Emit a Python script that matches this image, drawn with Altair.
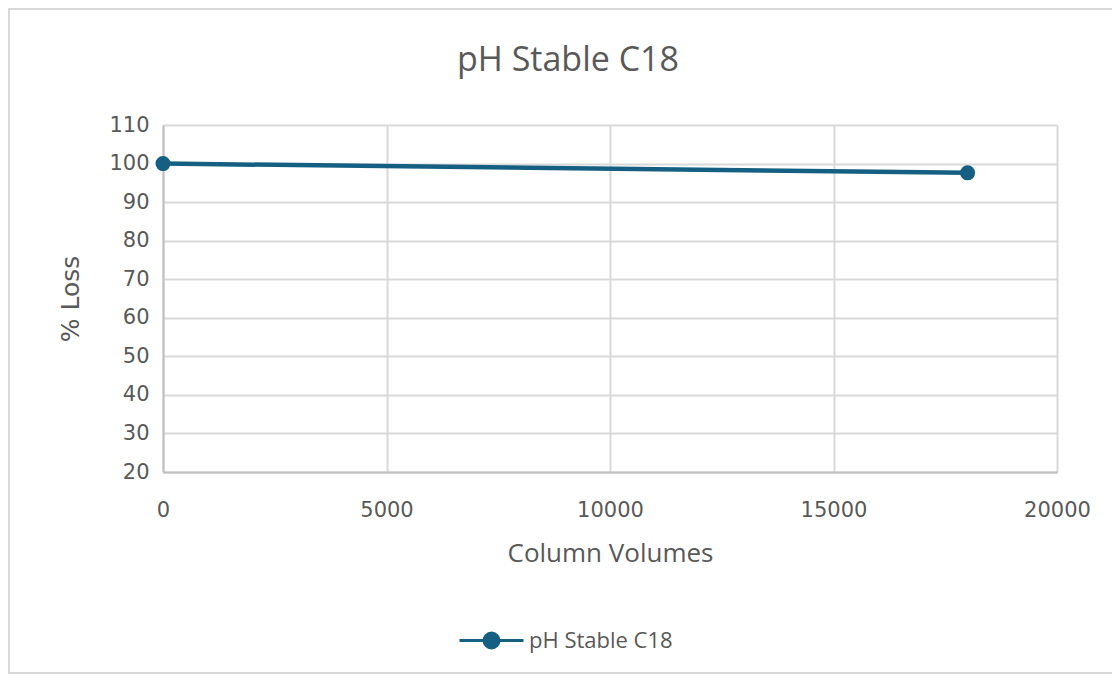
import altair as alt
import pandas as pd

column_volumes = [0, 18000]
pct_loss = [100, 97.6]
series_name = ["pH Stable C18", "pH Stable C18"]

y_ticks = [20, 30, 40, 50, 60, 70, 80, 90, 100, 110]
x_ticks = [0, 5000, 10000, 15000, 20000]

COLOR = "#156082"
TEXT = "#595959"

df = pd.DataFrame({"cv": column_volumes, "loss": pct_loss, "series": series_name})

W, H = 894, 347
PL, PT = 163, 125

xenc = alt.X("cv:Q", scale=alt.Scale(domain=[0, 20000], nice=False),
             axis=alt.Axis(values=x_ticks, title="Column Volumes", format="d",
                           labelFont="DejaVu Sans", labelFontSize=21, labelColor=TEXT,
                           labelPadding=27, ticks=False, domainColor="#bfbfbf", domainWidth=2,
                           gridColor="#d9d9d9", gridWidth=2,
                           titleFont="Open Sans", titleFontSize=26, titleFontWeight="normal",
                           titleColor=TEXT, titlePadding=20, labelFlush=False))
yenc = alt.Y("loss:Q", scale=alt.Scale(domain=[20, 110], nice=False, zero=False),
             axis=alt.Axis(values=y_ticks, title="% Loss",
                           labelFont="DejaVu Sans", labelFontSize=21, labelColor=TEXT,
                           labelPadding=14, ticks=False, domainColor="#bfbfbf", domainWidth=2,
                           gridColor="#d9d9d9", gridWidth=2,
                           titleFont="DejaVu Sans", titleFontSize=25, titleFontWeight="normal",
                           titleColor=TEXT, titlePadding=25))

frame = alt.Chart(df).mark_rect(fill="transparent", stroke="#d9d9d9", strokeWidth=2).encode(
    x=alt.value(9 - PL), x2=alt.value(1125 - PL),
    y=alt.value(9 - PT), y2=alt.value(673 - PT),
)

line = alt.Chart(df).mark_line(color=COLOR, strokeWidth=4.5).encode(x=xenc, y=yenc)

legend_path = "M-1,0L1,0M-0.234,0A0.234,0.234 0 1,1 0.234,0A0.234,0.234 0 1,1 -0.234,0Z"

points = alt.Chart(df).mark_point(filled=True, size=227, opacity=1).encode(
    x=xenc, y=yenc,
    color=alt.Color("series:N", scale=alt.Scale(range=[COLOR]),
                    legend=alt.Legend(title=None, orient="none", legendX=295, legendY=482,
                                      symbolType=legend_path, symbolSize=4096,
                                      symbolStrokeColor=COLOR, symbolFillColor=COLOR,
                                      symbolStrokeWidth=3, symbolOpacity=1,
                                      labelFont="Open Sans", labelFontSize=22,
                                      labelColor=TEXT, labelOffset=4, padding=0)),
)

chart = alt.layer(frame, line, points).properties(
    width=W, height=H,
    autosize=alt.AutoSizeParams(type="none"),
    padding={"left": PL, "top": PT, "right": 1112 - PL - W, "bottom": 677 - PT - H},
    title=alt.TitleParams("pH Stable C18", font="Open Sans", fontSize=34,
                          fontWeight="normal", color=TEXT, anchor="middle", frame="group",
                          dx=-42, offset=-97, baseline="alphabetic"),
).configure_view(stroke=None).configure(background="white")

chart.save("out.html", embed_options={"renderer": "svg", "actions": False})
